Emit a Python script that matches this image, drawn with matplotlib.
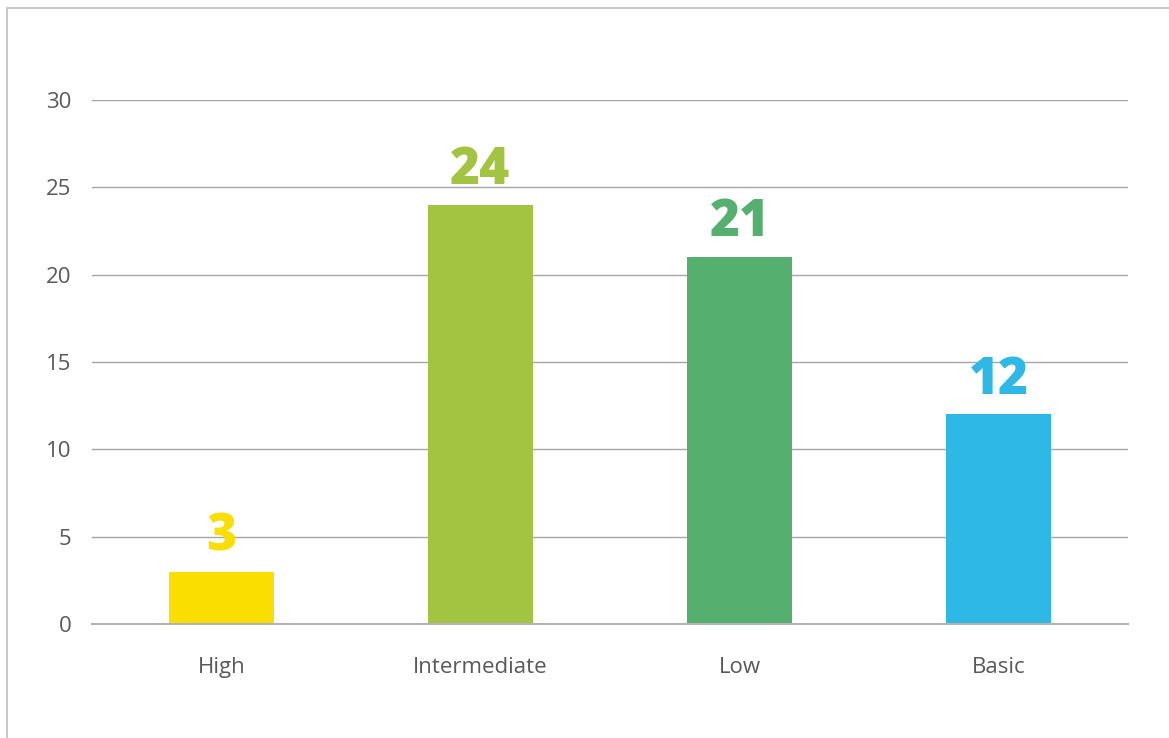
import matplotlib
matplotlib.use("Agg")
import matplotlib.pyplot as plt
from matplotlib.patches import Rectangle

categories = ["High", "Intermediate", "Low", "Basic"]
values = [3, 24, 21, 12]
colors = ["#F9DE00", "#A3C441", "#55AF6F", "#2EB8E6"]
yticks = [0, 5, 10, 15, 20, 25, 30]

plt.rcParams["font.family"] = ["Open Sans", "DejaVu Sans"]

fig = plt.figure(figsize=(11.69, 7.38), dpi=100)
# outer frame (cut off at right and bottom like the original)
fig.patches.append(Rectangle((6.5 / 1169, -0.1), 1.2, 1 - 8.5 / 738 + 0.1,
                             transform=fig.transFigure, fill=False,
                             edgecolor="#bfbfbf", linewidth=1.2))

ax = fig.add_axes([92 / 1169, (738 - 624) / 738, 1036 / 1169, 524 / 738])
x = range(len(categories))
ax.bar(x, values, width=0.405, color=colors, zorder=2)
for i, v in enumerate(values):
    ax.text(i, v + 0.5, str(v), ha="center", va="bottom", fontsize=37,
            fontweight="heavy", color=colors[i])

ax.set_xlim(-0.5, 3.5)
ax.set_ylim(0, 30)
ax.set_yticks(yticks)
ax.set_xticks(list(x))
ax.set_xticklabels(categories)
ax.grid(axis="y", color="#a6a6a6", linewidth=1, zorder=0)
ax.axhline(0, color="#b3b3b3", linewidth=1.5, zorder=3, clip_on=False)
for s in ax.spines.values():
    s.set_visible(False)
ax.tick_params(length=0, labelsize=16, labelcolor="#595959")
ax.tick_params(axis="y", pad=15)
ax.tick_params(axis="x", pad=24)

plt.savefig("out.png", dpi=100)
